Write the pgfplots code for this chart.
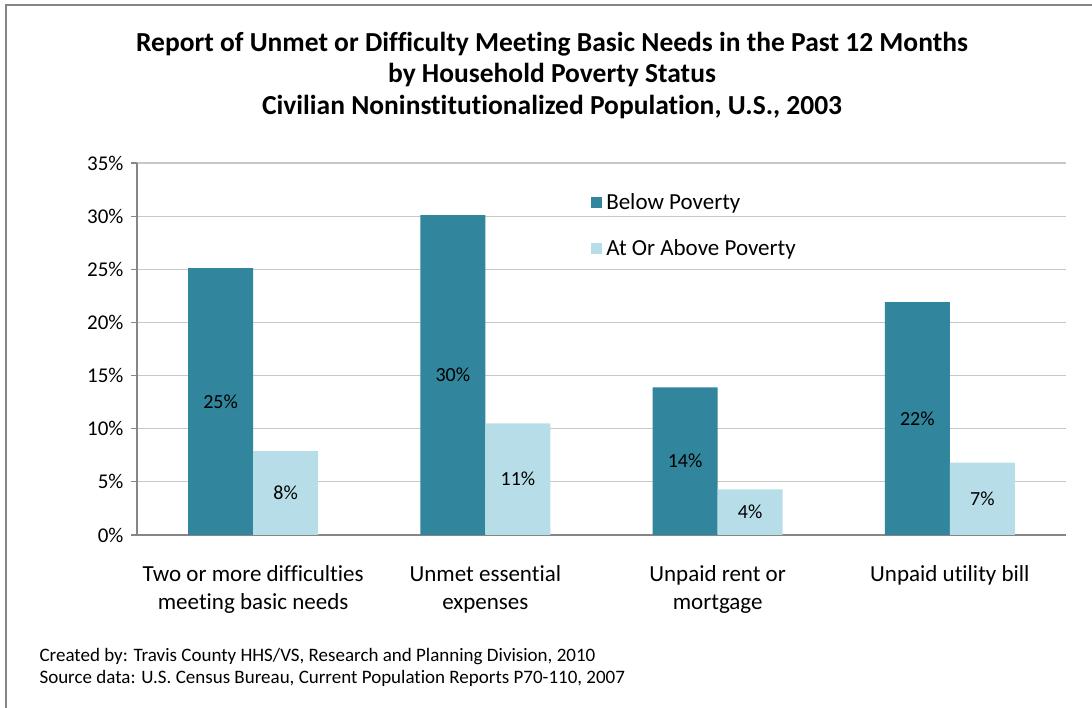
\documentclass[border=0pt]{standalone}
\usepackage{fontspec}
\setmainfont{Carlito}[Ligatures=NoCommon]
\usepackage{pgfplots}
\pgfplotsset{compat=1.18}
\definecolor{darkbar}{HTML}{31859C}
\definecolor{lightbar}{HTML}{B7DEE8}
\definecolor{gridc}{HTML}{C8C8C8}
\definecolor{axisc}{HTML}{868686}
\begin{document}
\begin{tikzpicture}[x=1pt,y=1pt]
\useasboundingbox (0pt,0pt) rectangle (1092pt,708pt);
\draw[axisc, line width=1.2pt] (6pt,0pt) -- (6pt,703pt) -- (1092pt,703pt);
\node[font=\fontsize{27.5}{31.5}\selectfont\bfseries, align=center] at (552pt,632.5pt) {Report of Unmet or Difficulty Meeting Basic Needs in the Past 12 Months\\by Household Poverty Status\\Civilian Noninstitutionalized Population, U.S., 2003};
\node[font=\fontsize{19}{22}\selectfont, align=left, anchor=west] at (36pt,41pt) {Created by: Travis County HHS/VS, Research and Planning Division, 2010\\Source data: U.S. Census Bureau, Current Population Reports P70-110, 2007};
\begin{axis}[
  at={(137pt,173pt)}, anchor=south west, scale only axis,
  width=929pt, height=372pt,
  xmin=-0.5, xmax=3.5, ymin=0, ymax=35,
  axis lines*=left,
  axis line style={axisc, line width=1.2pt},
  ytick={0,5,...,35},
  ymajorgrids, grid style={gridc, line width=1.2pt},
  yticklabel={\pgfmathprintnumber{\tick}\%},
  /pgf/number format/assume math mode=true,
  tick align=outside, major tick length=6pt,
  y tick style={axisc, line width=1.2pt},
  xtick={0,1,2,3},
  major x tick style={draw=none},
  xticklabels={{Two or more difficulties\\meeting basic needs},{Unmet essential\\expenses},{Unpaid rent or\\mortgage},{Unpaid utility bill}},
  xticklabel style={align=center, font=\fontsize{23}{28}\selectfont, yshift=-21pt},
  yticklabel style={font=\fontsize{21}{25}\selectfont, xshift=-4pt},
  extra x ticks={0.5,1.5,2.5,3.5},
  extra x tick labels={},
  extra x tick style={major tick length=6pt, tick style={axisc, line width=1.2pt}, grid=none},
  ybar, bar width=0.28,
  legend style={draw=none, fill=none, at={(0.485,0.935)}, anchor=north west,
    font=\fontsize{23}{27}\selectfont, row sep=19pt,
    /tikz/every even column/.append style={column sep=0pt}},
  legend cell align=left,
  legend image code/.code={\fill[#1] (0pt,-5.5pt) rectangle (11pt,5.5pt);},
  legend style={nodes={inner sep=4.5pt}},
]
\addplot[fill=darkbar, draw=none, bar shift=-0.14] coordinates {(0,25.1) (1,30.1) (2,13.9) (3,21.9)};
\addlegendentry{Below Poverty}
\addplot[fill=lightbar, draw=none, bar shift=0.14] coordinates {(0,7.9) (1,10.5) (2,4.3) (3,6.8)};
\addlegendentry{At Or Above Poverty}
\addplot[ybar=0pt, draw=none, fill=none, bar width=0.001, bar shift=0pt, forget plot,
  nodes near coords, point meta=explicit symbolic,
  nodes near coords style={anchor=center, font=\fontsize{20}{24}\selectfont, text=black}]
  coordinates {(-0.14,12.55) [25\%] (0.14,3.95) [8\%] (0.86,15.05) [30\%] (1.14,5.25) [11\%]
  (1.86,6.95) [14\%] (2.14,2.15) [4\%] (2.86,10.95) [22\%] (3.14,3.4) [7\%]};
\end{axis}
\end{tikzpicture}
\end{document}
